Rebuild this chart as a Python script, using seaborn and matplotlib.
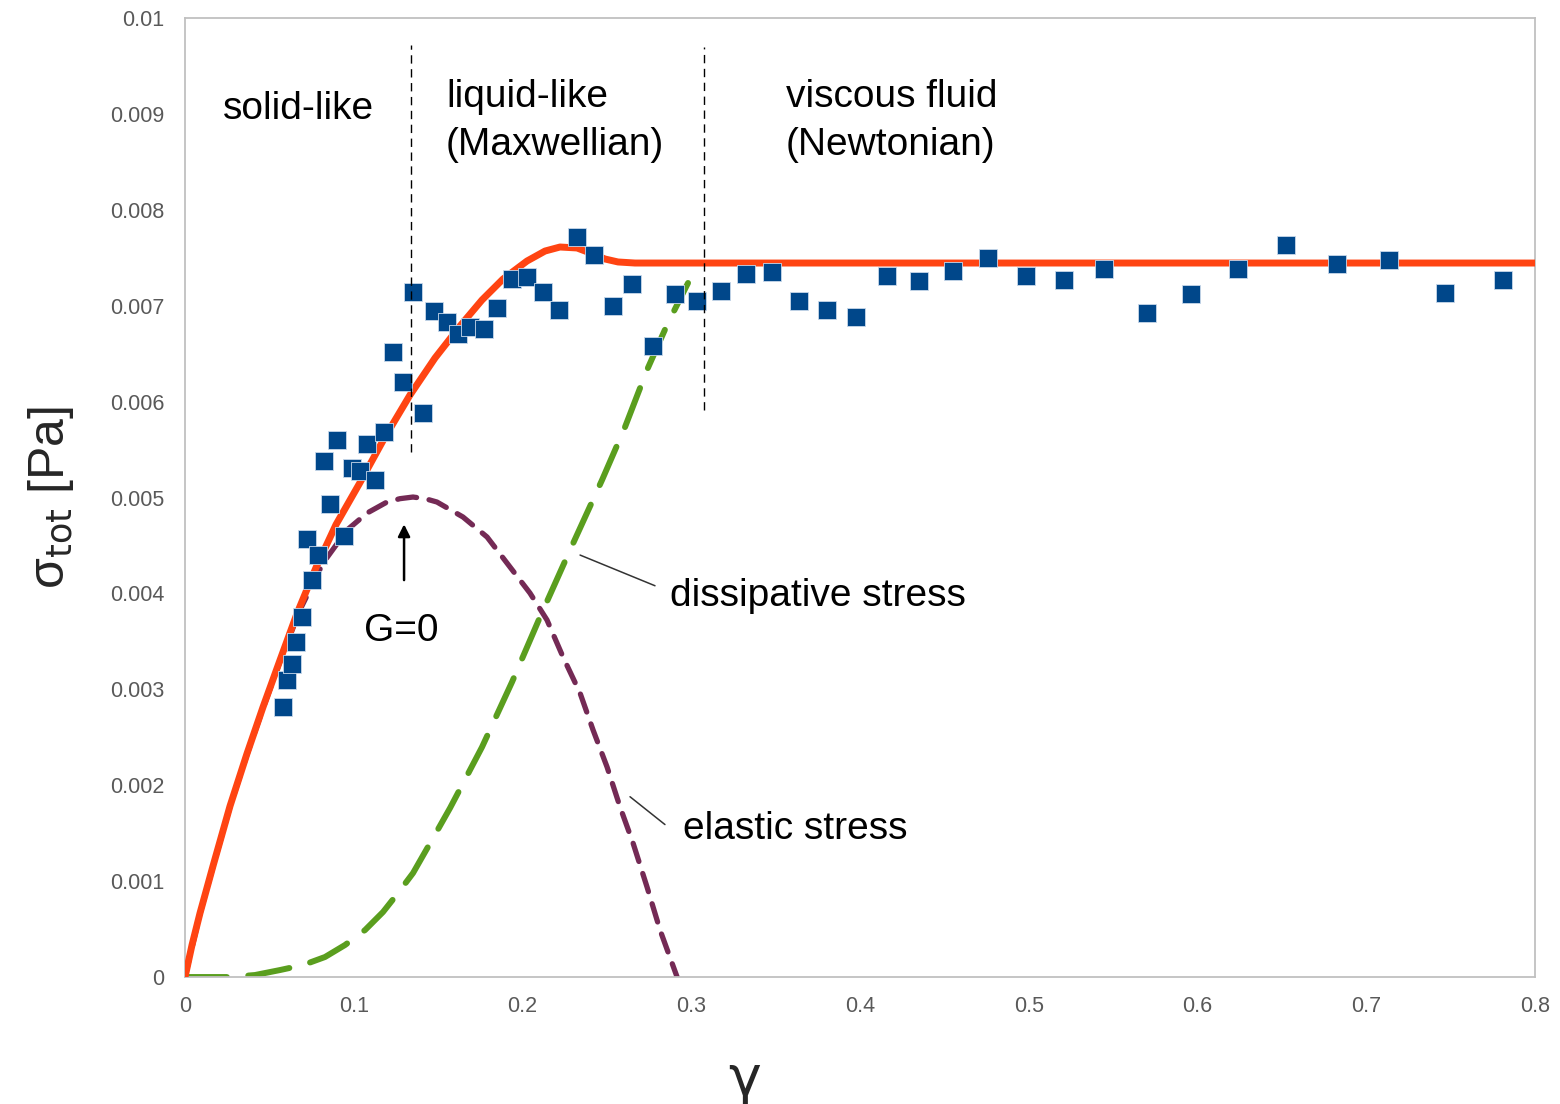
import numpy as np
import pandas as pd
import matplotlib
matplotlib.use("Agg")
import matplotlib.pyplot as plt
import seaborn as sns

# measured total stress vs strain
strain_meas = [0.0581, 0.0604, 0.0634, 0.0658, 0.0693, 0.0753, 0.0723, 0.0788, 0.0824, 0.0859,
               0.0901, 0.0942, 0.0990, 0.1037, 0.1079, 0.1126, 0.1179, 0.1233, 0.1292, 0.1351,
               0.1410, 0.1476, 0.1553, 0.1618, 0.1689, 0.1772, 0.1849, 0.1938, 0.2027, 0.2121,
               0.2216, 0.2323, 0.2424, 0.2536, 0.2649, 0.2773, 0.2904, 0.3034, 0.3176, 0.3324,
               0.3479, 0.3639, 0.3804, 0.3976, 0.4160, 0.4350, 0.4551, 0.4759, 0.4984, 0.5209,
               0.5446, 0.5701, 0.5961, 0.6240, 0.6524, 0.6827, 0.7135, 0.7467, 0.7810]
stress_meas = [0.002815, 0.003097, 0.003264, 0.003493, 0.003754, 0.004140, 0.004567, 0.004400, 0.005381, 0.004932,
               0.005600, 0.004599, 0.005308, 0.005276, 0.005558, 0.005182, 0.005683, 0.006517, 0.006204, 0.007143,
               0.005881, 0.006945, 0.006830, 0.006705, 0.006778, 0.006757, 0.006976, 0.007278, 0.007299, 0.007143,
               0.006955, 0.007716, 0.007529, 0.006997, 0.007226, 0.006580, 0.007122, 0.007049, 0.007153, 0.007331,
               0.007351, 0.007049, 0.006955, 0.006882, 0.007310, 0.007257, 0.007362, 0.007497, 0.007310, 0.007268,
               0.007383, 0.006924, 0.007122, 0.007383, 0.007633, 0.007435, 0.007477, 0.007132, 0.007268]

# model: total stress
strain_tot = [0.0, 0.00415, 0.00889, 0.01659, 0.02667, 0.03674, 0.04622, 0.05630, 0.06637, 0.07763,
              0.08948, 0.10370, 0.11852, 0.13333, 0.14815, 0.16296, 0.17600, 0.18844, 0.20267, 0.21333,
              0.22222, 0.23230, 0.24178, 0.24889, 0.25659, 0.26667, 0.8]
stress_tot = [0.0, 0.000334, 0.000667, 0.001158, 0.001783, 0.002330, 0.002815, 0.003305, 0.003790, 0.004270,
              0.004718, 0.005156, 0.005631, 0.006069, 0.006455, 0.006788, 0.007060, 0.007278, 0.007466, 0.007570,
              0.007612, 0.007602, 0.007539, 0.007487, 0.007456, 0.007445, 0.007445]

# model: elastic stress
strain_el = [0.0, 0.00889, 0.01659, 0.02667, 0.03674, 0.04622, 0.05630, 0.0681, 0.0818, 0.0960,
             0.1079, 0.1197, 0.1274, 0.1351, 0.1423, 0.1493, 0.1647, 0.1790, 0.1926, 0.2044,
             0.2145, 0.2240, 0.2341, 0.2418, 0.2501, 0.2578, 0.2655, 0.2738, 0.2815, 0.2916]
stress_el = [0.0, 0.000660, 0.001150, 0.001775, 0.002320, 0.002800, 0.003290, 0.003827, 0.004317, 0.004661,
             0.004838, 0.004953, 0.004988, 0.005005, 0.004988, 0.004953, 0.004797, 0.004588, 0.004275, 0.004004,
             0.003723, 0.003337, 0.002961, 0.002576, 0.002190, 0.001773, 0.001397, 0.000938, 0.000490, 0.0]

# model: dissipative stress
strain_dis = [0.0, 0.02667, 0.04148, 0.05630, 0.06993, 0.08296, 0.09481, 0.10667, 0.11733, 0.12622,
              0.13511, 0.14222, 0.14933, 0.15704, 0.16296, 0.17600, 0.19378, 0.21037, 0.22815, 0.24711,
              0.26074, 0.27378, 0.28563, 0.29807]
stress_dis = [0.0, 0.0, 0.000021, 0.000073, 0.000125, 0.000209, 0.000334, 0.000490, 0.000678, 0.000876,
              0.001084, 0.001303, 0.001522, 0.001762, 0.001960, 0.002398, 0.003076, 0.003754, 0.004452, 0.005182,
              0.005735, 0.006330, 0.006799, 0.007237]

# regime boundaries
boundary_x = [0.1339, 0.3076]
boundary_top = [0.00972, 0.00970]
boundary_bottom = [0.00547, 0.00591]

x_ticks = [0, 0.1, 0.2, 0.3, 0.4, 0.5, 0.6, 0.7, 0.8]
x_tick_labels = ["0", "0.1", "0.2", "0.3", "0.4", "0.5", "0.6", "0.7", "0.8"]
y_ticks = [0, 0.001, 0.002, 0.003, 0.004, 0.005, 0.006, 0.007, 0.008, 0.009, 0.01]
y_tick_labels = ["0", "0.001", "0.002", "0.003", "0.004", "0.005", "0.006", "0.007", "0.008", "0.009", "0.01"]

sns.set_style("white")
plt.rcParams["font.family"] = ["Liberation Sans", "DejaVu Sans"]

fig = plt.figure(figsize=(15.6, 11.04), dpi=100)
ax = fig.add_axes([0.1186, 0.1150, 0.8654, 0.8687])

df_meas = pd.DataFrame({"strain": strain_meas, "stress": stress_meas})
df_tot = pd.DataFrame({"strain": strain_tot, "stress": stress_tot})
df_el = pd.DataFrame({"strain": strain_el, "stress": stress_el})
df_dis = pd.DataFrame({"strain": strain_dis, "stress": stress_dis})

sns.lineplot(data=df_el, x="strain", y="stress", sort=False, ax=ax, color="#742a55",
             linewidth=3.8, zorder=2)
ax.lines[-1].set_dashes((3.6, 2.4))
ax.lines[-1].set_dash_capstyle("round")
ax.lines[-1].set_solid_joinstyle("round")

sns.lineplot(data=df_dis, x="strain", y="stress", sort=False, ax=ax, color="#5a9e1e",
             linewidth=4.3, zorder=2)
ax.lines[-1].set_dashes((7.0, 3.6))
ax.lines[-1].set_dash_capstyle("round")

sns.lineplot(data=df_tot, x="strain", y="stress", sort=False, ax=ax, color="#ff4412",
             linewidth=5.0, zorder=3)
ax.lines[-1].set_solid_capstyle("butt")
ax.lines[-1].set_solid_joinstyle("round")

sns.scatterplot(data=df_meas, x="strain", y="stress", ax=ax, marker="s", s=150,
                color="#00478a", edgecolor="#c8d8ea", linewidth=0.6, zorder=4)

for bx, bt, bb in zip(boundary_x, boundary_top, boundary_bottom):
    ax.plot([bx, bx], [bb, bt], color="black", linewidth=1.0, linestyle=(0, (6, 4)), zorder=5)

ax.set_xlim(0, 0.8)
ax.set_ylim(0, 0.01)
ax.set_xticks(x_ticks)
ax.set_xticklabels(x_tick_labels)
ax.set_yticks(y_ticks)
ax.set_yticklabels(y_tick_labels)
ax.tick_params(axis="both", direction="in", length=7, width=1.2, color="#bfbfbf",
               labelcolor="#595959", labelsize=15.5)
ax.tick_params(axis="x", pad=14)
ax.tick_params(axis="y", pad=15)
for sp in ax.spines.values():
    sp.set_color("#c0c0c0")
    sp.set_linewidth(1.3)

ax.set_xlabel("")
ax.set_ylabel("σ$_{\\mathrm{tot}}$ [Pa]", fontsize=36, labelpad=24)

fig.text(745 / 1560, 1 - 1080 / 1104, "γ", fontsize=40, ha="center", va="center",
         family=["DejaVu Sans"])

txt_kw = dict(fontsize=28, color="black")
ax.text(0.0225, 0.00905, "solid-like", ha="left", va="center", **txt_kw)
ax.text(0.1547, 0.00918, "liquid-like", ha="left", va="center", **txt_kw)
ax.text(0.1547, 0.00868, "(Maxwellian)", ha="left", va="center", **txt_kw)
ax.text(0.3561, 0.00918, "viscous fluid", ha="left", va="center", **txt_kw)
ax.text(0.3561, 0.00868, "(Newtonian)", ha="left", va="center", **txt_kw)
ax.text(0.2876, 0.00397, "dissipative stress", ha="left", va="center", **txt_kw)
ax.text(0.2953, 0.00154, "elastic stress", ha="left", va="center", **txt_kw)
ax.text(0.1280, 0.00361, "G=0", ha="center", va="center", **txt_kw)

# pointer arrow and leader lines
ax.annotate("", xy=(0.1298, 0.00475), xytext=(0.1298, 0.00411),
            arrowprops=dict(arrowstyle="-|>", color="black", lw=1.8, mutation_scale=18))
ax.plot([0.2341, 0.2785], [0.00440, 0.00408], color="#333333", linewidth=1.1)
ax.plot([0.2637, 0.2844], [0.00188, 0.00159], color="#333333", linewidth=1.1)

fig.savefig("out.png", dpi=100, facecolor="white")
